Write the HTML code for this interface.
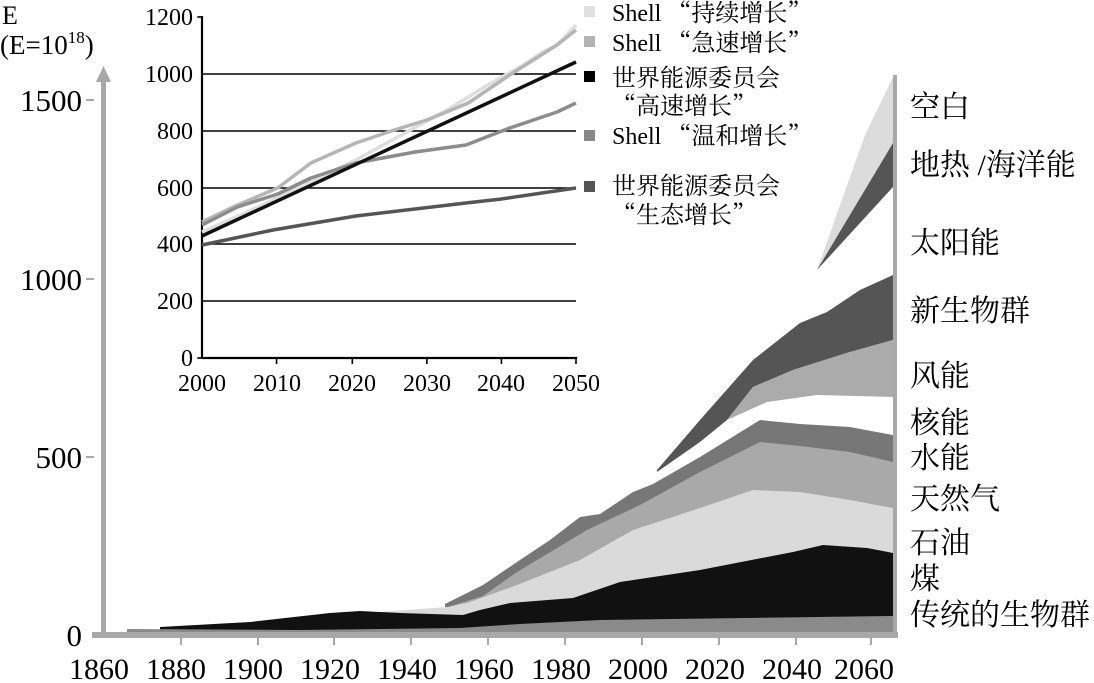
<!DOCTYPE html>
<html><head><meta charset="utf-8"><style>
html,body{margin:0;padding:0;background:#fff;}
svg{display:block;}
text{font-family:"Liberation Serif","Noto Serif CJK SC",serif;fill:#000;}
.cj{font-family:"Noto Serif CJK SC",serif;}
</style></head><body>
<svg width="1094" height="683" viewBox="0 0 1094 683" xmlns="http://www.w3.org/2000/svg">
<rect width="1094" height="683" fill="#fff"/>
<!-- stacked areas -->
<polygon fill="#dcdcdc" points="817,270 840,205 865,135 893,77 893,143 817,270"/>
<polygon fill="#555" points="817,270 893,143 893,187"/>
<polygon fill="#555" points="657,470 700,420 753,360 800,323 827,312 860,290 893,275 893,633 657,633"/>
<polygon fill="#fff" points="657,472 700,442 727,420 753,387 793,370 850,352 893,340 893,633 657,633"/>
<polygon fill="#ababab" points="727,420 753,387 793,370 850,352 893,340 893,397 817,395 767,402"/>
<polygon fill="#777" points="445,604 483,585 517,562 550,540 580,517 600,514 633,492 653,484 700,457 760,420 800,424 850,427 893,435 893,633 445,633"/>
<polygon fill="#a9a9a9" points="448,607 483,596 517,572 557,548 587,530 640,505 700,472 760,442 800,446 850,452 893,462 893,633 448,633"/>
<polygon fill="#dadada" points="380,612 420,609 447,607 467,603 517,585 580,560 633,530 700,508 753,490 800,492 850,500 893,508 893,633 380,633"/>
<polygon fill="#111" points="160,627 250,622 330,613 360,611 400,613 463,615 480,610 510,603 573,598 620,582 700,570 793,552 823,545 867,548 893,553 893,633 160,633"/>
<polygon fill="#8a8a8a" points="127,629 300,630 460,628 520,624 600,620 893,616 893,633 127,633"/>
<!-- axes -->
<rect x="92" y="632" width="806" height="6" fill="#a8a8a8"/>
<rect x="101" y="78" width="5" height="560" fill="#a8a8a8"/>
<polygon fill="#a8a8a8" points="96,82 103.5,66 111,82"/>
<rect x="893" y="75" width="4" height="560" fill="#a8a8a8"/>
<g fill="#a8a8a8">
<rect x="86" y="99" width="8" height="2"/><rect x="86" y="278" width="8" height="2"/><rect x="86" y="456" width="8" height="2"/>
<rect x="180" y="637" width="2" height="8"/><rect x="257" y="637" width="2" height="8"/><rect x="333" y="637" width="2" height="8"/><rect x="410" y="637" width="2" height="8"/><rect x="487" y="637" width="2" height="8"/><rect x="564" y="637" width="2" height="8"/><rect x="641" y="637" width="2" height="8"/><rect x="718" y="637" width="2" height="8"/><rect x="795" y="637" width="2" height="8"/><rect x="870" y="637" width="2" height="8"/>
</g>
<g font-size="31" text-anchor="end">
<text x="82" y="111">1500</text><text x="82" y="290">1000</text><text x="82" y="468">500</text><text x="82" y="646">0</text>
</g>
<text x="2" y="24" font-size="26">E</text>
<text x="0" y="54" font-size="27">(E=10<tspan font-size="17" dy="-11">18</tspan><tspan dy="11">)</tspan></text>
<g font-size="30" text-anchor="middle">
<text x="99" y="679">1860</text><text x="176" y="679">1880</text><text x="253" y="679">1900</text><text x="330" y="679">1920</text><text x="407" y="679">1940</text><text x="484" y="679">1960</text><text x="561" y="679">1980</text><text x="638" y="679">2000</text><text x="715" y="679">2020</text><text x="792" y="679">2040</text><text x="864" y="679">2060</text>
</g>
<!-- right labels -->
<g font-size="30" class="cj">
<text x="910" y="117">空白</text>
<text x="910" y="175">地热 /海洋能</text>
<text x="910" y="253">太阳能</text>
<text x="910" y="321">新生物群</text>
<text x="910" y="386">风能</text>
<text x="910" y="433">核能</text>
<text x="910" y="468">水能</text>
<text x="910" y="509">天然气</text>
<text x="910" y="553">石油</text>
<text x="910" y="589">煤</text>
<text x="910" y="625">传统的生物群</text>
</g>
<!-- inset -->
<g transform="translate(202,0) scale(1.1835,1) translate(-170,0)">
<g stroke="#000" stroke-width="1.6" vector-effect="non-scaling-stroke">
<line vector-effect="non-scaling-stroke" x1="170" y1="74" x2="486" y2="74"/><line vector-effect="non-scaling-stroke" x1="170" y1="131" x2="486" y2="131"/><line vector-effect="non-scaling-stroke" x1="170" y1="188" x2="486" y2="188"/><line vector-effect="non-scaling-stroke" x1="170" y1="244" x2="486" y2="244"/><line vector-effect="non-scaling-stroke" x1="170" y1="301" x2="486" y2="301"/>
<line vector-effect="non-scaling-stroke" x1="170" y1="16" x2="170" y2="359" stroke-width="2.2"/>
<line vector-effect="non-scaling-stroke" x1="170" y1="358" x2="487" y2="358" stroke-width="2.2"/>
<line vector-effect="non-scaling-stroke" x1="166" y1="17" x2="170" y2="17"/><line vector-effect="non-scaling-stroke" x1="166" y1="358" x2="170" y2="358"/>
<line vector-effect="non-scaling-stroke" x1="233" y1="358" x2="233" y2="364"/><line vector-effect="non-scaling-stroke" x1="297" y1="358" x2="297" y2="364"/><line vector-effect="non-scaling-stroke" x1="360" y1="358" x2="360" y2="364"/><line vector-effect="non-scaling-stroke" x1="423" y1="358" x2="423" y2="364"/><line vector-effect="non-scaling-stroke" x1="486" y1="358" x2="486" y2="364"/>
</g>
<g fill="none" stroke-width="3.5" stroke-linejoin="round">
<polyline vector-effect="non-scaling-stroke" stroke="#dedede" points="170,232 210,211 260,183 300,160 340,134 380,108 410,86 440,66 458,52 470,45 486,25"/>
<polyline vector-effect="non-scaling-stroke" stroke="#b5b5b5" points="170,222 200,205 234,188 262,163 300,143 330,131 360,120 395,103 430,75 470,45 486,30"/>
<polyline vector-effect="non-scaling-stroke" stroke="#8c8c8c" points="170,225 200,207 234,194 262,178 300,163 350,152 393,145 430,128 470,112 486,103"/>
<polyline vector-effect="non-scaling-stroke" stroke="#555" points="170,245 230,230 300,216 393,203 423,199 486,188"/>
<polyline vector-effect="non-scaling-stroke" stroke="#111" points="170,236 486,62"/>
</g>
</g>
<g font-size="24" text-anchor="end">
<text x="193" y="25">1200</text><text x="193" y="82">1000</text><text x="193" y="139">800</text><text x="193" y="196">600</text><text x="193" y="252">400</text><text x="193" y="309">200</text><text x="193" y="366">0</text>
</g>
<g font-size="24" text-anchor="middle">
<text x="202" y="391">2000</text><text x="277" y="391">2010</text><text x="352" y="391">2020</text><text x="427" y="391">2030</text><text x="501" y="391">2040</text><text x="576" y="391">2050</text>
</g>
<!-- legend -->
<rect x="584" y="6" width="11" height="11" fill="#e0e0e0"/>
<rect x="584" y="36" width="11" height="11" fill="#b3b3b3"/>
<rect x="584" y="71" width="11" height="11" fill="#000"/>
<rect x="584" y="130" width="11" height="11" fill="#888"/>
<rect x="584" y="181" width="11" height="11" fill="#555"/>
<g font-size="24">
<text x="612" y="21">Shell <tspan class="cj">“持续增长”</tspan></text>
<text x="612" y="51">Shell <tspan class="cj">“急速增长”</tspan></text>
<text x="612" y="86" class="cj">世界能源委员会</text>
<text x="612" y="114" class="cj">“高速增长”</text>
<text x="612" y="144">Shell <tspan class="cj">“温和增长”</tspan></text>
<text x="612" y="194" class="cj">世界能源委员会</text>
<text x="612" y="223" class="cj">“生态增长”</text>
</g>
</svg>
</body></html>
